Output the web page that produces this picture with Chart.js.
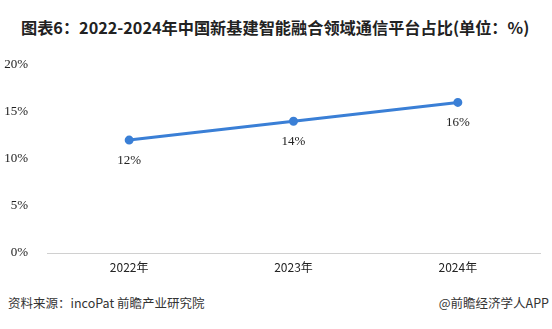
<!DOCTYPE html>
<html>
<head>
<meta charset="utf-8">
<script src="https://cdn.jsdelivr.net/npm/chart.js@4"></script>
<style>
  body { margin: 0; width: 552px; height: 329px; background: #fff; position: relative; overflow: hidden; }
  #title { position: absolute; left: 21px; top: 15px; font: bold 16.2px "Noto Sans CJK SC", sans-serif; color: #222; white-space: nowrap; }
  #wrap { position: absolute; left: 0; top: 46px; width: 552px; height: 237px; }
  .foot { position: absolute; top: 293px; font: 12.5px "Noto Sans CJK SC", sans-serif; color: #333; }
</style>
</head>
<body>
<div id="title">图表6：2022-2024年中国新基建智能融合领域通信平台占比(单位：%)</div>
<div id="wrap"><canvas id="c" width="552" height="237"></canvas></div>
<div class="foot" style="left:8px">资料来源：incoPat 前瞻产业研究院</div>
<div class="foot" style="right:3px">@前瞻经济学人APP</div>
<script>
// data
const years = ['2022年', '2023年', '2024年'];
const shares = [12, 14, 16];
const yTicks = [0, 5, 10, 15, 20];

// value labels under each point
const pointLabels = {
    id: 'pointLabels',
    afterDatasetsDraw(chart) {
        const ctx = chart.ctx;
        const meta = chart.getDatasetMeta(0);
        ctx.save();
        ctx.font = '13px "Liberation Serif", serif';
        ctx.fillStyle = '#222';
        ctx.textAlign = 'center';
        ctx.textBaseline = 'middle';
        meta.data.forEach((pt, i) => {
            ctx.fillText(shares[i] + '%', pt.x, pt.y + 20);
        });
        ctx.restore();
    }
};

new Chart(document.getElementById('c').getContext('2d'), {
    type: 'line',
    data: {
        labels: years,
        datasets: [{
            data: shares,
            borderColor: '#3a7fd6',
            backgroundColor: '#3a7fd6',
            borderWidth: 3,
            pointRadius: 3,
            pointHoverRadius: 3,
            tension: 0,
            fill: false
        }]
    },
    options: {
        responsive: false,
        animation: false,
        layout: { padding: { top: 6, right: 12, left: 0, bottom: 0 } },
        plugins: { legend: { display: false }, tooltip: { enabled: false } },
        scales: {
            y: {
                min: 0,
                max: 20,
                afterFit(axis) { axis.width = 47; },
                afterBuildTicks(axis) { axis.ticks = yTicks.map(v => ({ value: v })); },
                grid: { display: false },
                border: { display: false },
                ticks: {
                    padding: 11,
                    color: '#222',
                    font: { family: '"Liberation Serif", serif', size: 13 },
                    callback: v => v + '%'
                }
            },
            x: {
                offset: true,
                afterFit(axis) { axis.height = 30; },
                grid: { display: false, offset: true, drawTicks: false },
                border: { display: true, color: '#d0d0d0', width: 1 },
                ticks: {
                    padding: 7,
                    color: '#222',
                    font: { family: '"Noto Sans CJK SC", sans-serif', size: 12 }
                }
            }
        }
    },
    plugins: [pointLabels]
});
</script>
</body>
</html>
